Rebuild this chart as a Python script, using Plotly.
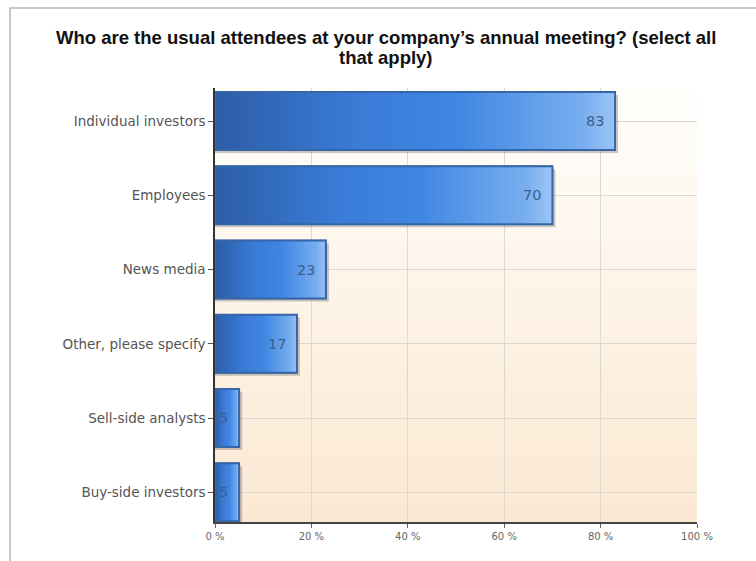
import plotly.graph_objects as go

# Survey results: share of respondents (%) naming each attendee group
categories = [
    "Individual investors",
    "Employees",
    "News media",
    "Other, please specify",
    "Sell-side analysts",
    "Buy-side investors",
]
percent = [83, 70, 23, 17, 5, 5]
x_ticks = [0, 20, 40, 60, 80, 100]
x_tick_labels = ["0 %", "20 %", "40 %", "60 %", "80 %", "100 %"]

title_lines = [
    "Who are the usual attendees at your company\u2019s annual meeting? (select all",
    "that apply)",
]

W, H = 756, 561
L, R, T, B = 215, 59, 88, 39
BAR_W = 0.78
Y_RANGE = [5.4, -0.445]          # reversed: first category on top

title_font = "Arial, Liberation Sans, sans-serif"
label_font = "DejaVu Sans, Verdana, sans-serif"
ypos = list(range(len(categories)))

fig = go.Figure()

# Drop shadow behind each bar
px_x = 100 / (W - L - R)
px_y = (Y_RANGE[0] - Y_RANGE[1]) / (H - T - B)
for y, v in zip(ypos, percent):
    dx, dy = 3 * px_x, 3 * px_y
    x0, x1 = 0, v + dx
    y0, y1 = y - BAR_W / 2 + dy, y + BAR_W / 2 + dy
    fig.add_trace(go.Scatter(
        x=[x0, x1, x1, x0, x0], y=[y0, y0, y1, y1, y0],
        mode="lines", fill="toself", fillcolor="rgba(90,90,90,0.32)",
        line=dict(width=0), hoverinfo="skip", showlegend=False,
    ))

# Bars
fig.add_trace(go.Bar(
    x=percent, y=ypos, orientation="h", width=BAR_W,
    marker=dict(color="#3b7bd4", line=dict(color="#3463a6", width=1.5)),
    hoverinfo="x+y", showlegend=False,
))

# Horizontal gradient fill over each bar
for y, v in zip(ypos, percent):
    y0, y1 = y - BAR_W / 2, y + BAR_W / 2
    fig.add_trace(go.Scatter(
        x=[0, v, v, 0, 0], y=[y0, y0, y1, y1, y0],
        mode="lines", fill="toself",
        fillgradient=dict(
            type="horizontal",
            colorscale=[[0, "#2c5da6"], [0.35, "#3a7bd6"], [0.6, "#3f86e2"],
                        [0.92, "#78aeef"], [1, "#9cc5f5"]],
        ),
        line=dict(color="#3665a8", width=2),
        hoverinfo="skip", showlegend=False,
    ))

# Value labels inside the bar ends
for y, v in zip(ypos, percent):
    fig.add_annotation(
        x=v, y=y, xref="x", yref="y", text=str(v), showarrow=False,
        xanchor="right", yanchor="middle", xshift=-9,
        font=dict(family=label_font, size=14.5, color="#3d5e8e"),
    )

# Plot-area background: white at the top fading to peach at the bottom
n_strips = 40
top_c = (255, 254, 252)
bot_c = (251, 232, 210)
for i in range(n_strips):
    t = (i + 0.5) / n_strips
    c = tuple(round(top_c[k] + (bot_c[k] - top_c[k]) * t) for k in range(3))
    fig.add_shape(
        type="rect", xref="paper", yref="paper",
        x0=0, x1=1, y0=1 - (i + 1) / n_strips, y1=1 - i / n_strips + 0.001,
        fillcolor="rgb(%d,%d,%d)" % c, line=dict(width=0), layer="below",
    )

# Outer frame of the chart
fig.add_shape(
    type="rect", xref="paper", yref="paper",
    x0=(10 - L) / (W - L - R), x1=1.3,
    y0=-0.2, y1=(H - B - 8) / (H - T - B),
    line=dict(color="#c8c8c8", width=2), fillcolor="rgba(0,0,0,0)", layer="below",
)

# Title, two centred lines
for line_text, y_px in zip(title_lines, [38, 57]):
    fig.add_annotation(
        xref="paper", yref="paper",
        x=(386 - L) / (W - L - R), y=(H - B - y_px) / (H - T - B),
        text="<b>" + line_text + "</b>", showarrow=False,
        xanchor="center", yanchor="middle", align="center",
        font=dict(family=title_font, size=18.5, color="#111111"),
    )

fig.update_layout(
    width=W, height=H,
    margin=dict(l=L, r=R, t=T, b=B, pad=0),
    paper_bgcolor="white", plot_bgcolor="rgba(0,0,0,0)",
    bargap=0.22,
)
fig.update_xaxes(
    range=[0, 100], tickvals=x_ticks, ticktext=x_tick_labels,
    showgrid=True, gridcolor="#dcd8d2", gridwidth=1,
    showline=True, linecolor="#444444", linewidth=1.5,
    ticks="outside", ticklen=4, tickcolor="#666666",
    tickfont=dict(family=label_font, size=10, color="#666666"),
    zeroline=False, fixedrange=True,
)
fig.update_yaxes(
    range=Y_RANGE, tickvals=ypos, ticktext=categories,
    showgrid=True, gridcolor="#dcd8d2", gridwidth=1,
    showline=True, linecolor="#333333", linewidth=1.5,
    ticks="outside", ticklen=5, tickcolor="#555555",
    tickfont=dict(family=label_font, size=13.5, color="#555555"),
    zeroline=False, fixedrange=True,
)

fig.write_html("out.html")
